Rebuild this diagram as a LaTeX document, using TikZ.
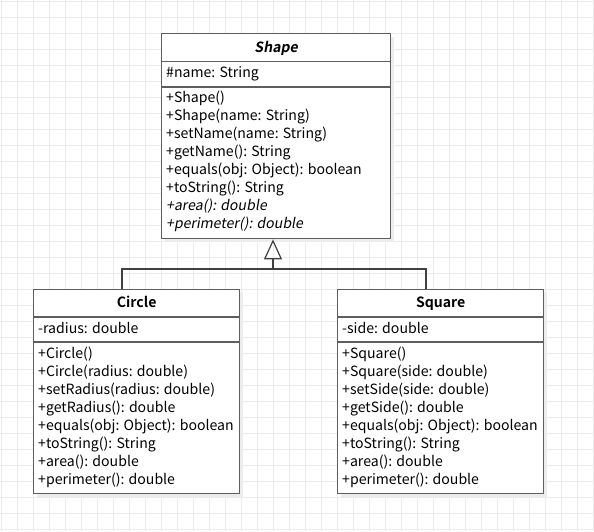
\documentclass[tikz,border=0pt]{standalone}
\usepackage{fontspec}
\setmainfont{Noto Sans CJK SC}[
  BoldFont={Noto Sans CJK SC Bold},
  ItalicFont={Noto Sans CJK SC},
  ItalicFeatures={FakeSlant=0.18},
  BoldItalicFont={Noto Sans CJK SC Bold},
  BoldItalicFeatures={FakeSlant=0.18}]
\usetikzlibrary{calc,arrows.meta,shadows}
\definecolor{gridc}{HTML}{EBEBEB}
\definecolor{linec}{HTML}{5E5E5E}
\definecolor{shadc}{HTML}{EDEDED}
\tikzset{
  classbox/.style={draw=linec, line width=1.4pt, fill=white, inner sep=0pt, anchor=north west,
    drop shadow={shadow xshift=3pt, shadow yshift=-3pt, fill=shadc, opacity=1}},
  sepline/.style={draw=linec, line width=1.4pt},
  item/.style={anchor=base west, inner sep=0pt, font=\fontsize{14.1}{17}\selectfont},
  title/.style={anchor=base, inner sep=0pt, font=\fontsize{14.1}{17}\selectfont\bfseries},
  conn/.style={draw=black!75, line width=1.3pt},
  gen/.style={-{Triangle[open, length=20pt, width=18pt, line width=1.2pt]}}
}
\begin{document}
\begin{tikzpicture}[x=1pt,y=-1pt]
\useasboundingbox (0,0) rectangle (594,531);
\fill[white] (0,0) rectangle (594,531);
\foreach \g in {1,17,...,593} \draw[gridc, line width=1pt] (\g,0) -- (\g,531);
\foreach \g in {1,17,...,529} \draw[gridc, line width=1pt] (0,\g) -- (594,\g);

% ---- Shape ----
\node[classbox, minimum width=229pt, minimum height=205pt] (shape) at (161,33) {};
\draw[sepline] ($(shape.north west)+(0,28.5)$) -- ($(shape.north east)+(0,28.5)$);
\draw[sepline] ($(shape.north west)+(0,54)$) -- ($(shape.north east)+(0,54)$);
\node[title] (shape-t) at ($(shape.north)+(0,19)$) {\textit{Shape}};
\node[item] (shape-a) at ($(shape.north west)+(5,44.5)$) {\#name: String};
\foreach \t [count=\i] in {{+Shape()},{+Shape(name: String)},{+setName(name: String)},{+getName(): String},{+equals(obj: Object): boolean},{+toString(): String},{\textit{+area(): double}},{\textit{+perimeter(): double}}}
  \node[item] (shape-m\i) at ($(shape.north west)+(5,69.5+17.95*\i-17.95)$) {\t};

% ---- Circle ----
\node[classbox, minimum width=206pt, minimum height=204.5pt] (circ) at (33,288.5) {};
\draw[sepline] ($(circ.north west)+(0,28.5)$) -- ($(circ.north east)+(0,28.5)$);
\draw[sepline] ($(circ.north west)+(0,53.5)$) -- ($(circ.north east)+(0,53.5)$);
\node[title] (circ-t) at ($(circ.north)+(0,19)$) {Circle};
\node[item] (circ-a) at ($(circ.north west)+(5,44.5)$) {-radius: double};
\foreach \t [count=\i] in {{+Circle()},{+Circle(radius: double)},{+setRadius(radius: double)},{+getRadius(): double},{+equals(obj: Object): boolean},{+toString(): String},{+area(): double},{+perimeter(): double}}
  \node[item] (circ-m\i) at ($(circ.north west)+(5,70+17.95*\i-17.95)$) {\t};

% ---- Square ----
\node[classbox, minimum width=206pt, minimum height=204.5pt] (sq) at (337,288.5) {};
\draw[sepline] ($(sq.north west)+(0,28.5)$) -- ($(sq.north east)+(0,28.5)$);
\draw[sepline] ($(sq.north west)+(0,53.5)$) -- ($(sq.north east)+(0,53.5)$);
\node[title] (sq-t) at ($(sq.north)+(0,19)$) {Square};
\node[item] (sq-a) at ($(sq.north west)+(5,44.5)$) {-side: double};
\foreach \t [count=\i] in {{+Square()},{+Square(side: double)},{+setSide(side: double)},{+getSide(): double},{+equals(obj: Object): boolean},{+toString(): String},{+area(): double},{+perimeter(): double}}
  \node[item] (sq-m\i) at ($(sq.north west)+(5,70+17.95*\i-17.95)$) {\t};

% ---- generalisation ----
\coordinate (apex) at ($(shape.south west)+(112,0)$);
\coordinate (join) at ($(apex)+(0,29.5)$);
\coordinate (cin) at ($(circ.north west)+(89,0)$);
\coordinate (sin) at ($(sq.north west)+(89,0)$);
\draw[conn] (cin) |- (join) -| (sin);
\draw[conn, gen] (join) -- (apex);
\end{tikzpicture}
\end{document}
